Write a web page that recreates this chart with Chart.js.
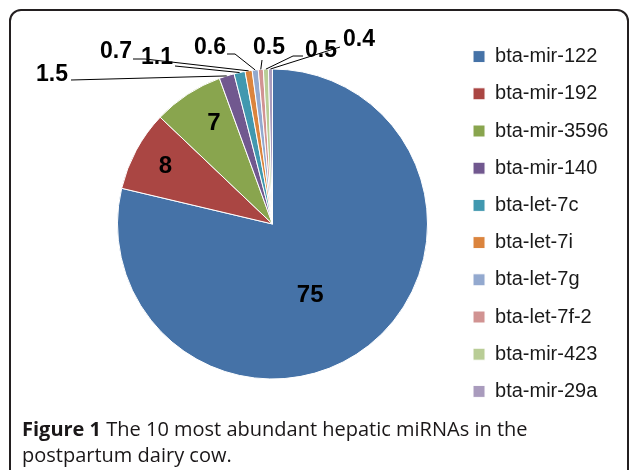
<!DOCTYPE html>
<html>
<head>
<meta charset="utf-8">
<script src="https://cdn.jsdelivr.net/npm/chart.js@4.4.1/dist/chart.umd.min.js"></script>
<style>
  html, body { margin: 0; padding: 0; background: #fff; }
  body { width: 629px; height: 470px; position: relative; overflow: hidden; }
  .frame {
    position: absolute; left: 9px; top: 9px;
    width: 620px; height: 500px; box-sizing: border-box;
    border: 2px solid #231f20; border-radius: 12px;
  }
  #pie { position: absolute; left: 0; top: 0; }
  .caption {
    position: absolute; left: 22px; top: 416px;
    font-family: "Open Sans", sans-serif; font-size: 20px; line-height: 26px;
    color: #1a1718;
  }
  .caption b { font-weight: 700; }
</style>
</head>
<body>
<div class="frame"></div>
<canvas id="pie" width="629" height="448"></canvas>
<div class="caption"><b>Figure 1</b> The 10 most abundant hepatic miRNAs in the<br>postpartum dairy cow.</div>
<script>
const mirnas = ['bta-mir-122', 'bta-mir-192', 'bta-mir-3596', 'bta-mir-140', 'bta-let-7c',
    'bta-let-7i', 'bta-let-7g', 'bta-let-7f-2', 'bta-mir-423', 'bta-mir-29a'];
const abundance = [75, 8, 7, 1.5, 1.1, 0.7, 0.6, 0.5, 0.5, 0.4];
const sliceColors = ['#4572a7', '#aa4643', '#89a54e', '#71588f', '#4198af',
    '#db843d', '#93a9cf', '#d19392', '#b9cd96', '#a99bbd'];

// labels inside the big slices: radius fraction + small angle nudge (deg)
const insideLabels = {
    0: { r: 0.52, shift: 10.5 },
    1: { r: 0.785, shift: 0 },
    2: { r: 0.75, shift: 3 }
};
// callouts for the thin slices: text centre and leader line points (ends on the arc)
const callouts = {
    3: { text: [52, 75], line: [[71, 80]] },
    4: { text: [157, 58], line: [[175, 66]] },
    5: { text: [116, 52], line: [[133, 59], [145, 59]] },
    6: { text: [210, 48], line: [[227, 54], [235, 54]] },
    7: { text: [269, 48], line: [[262, 60]] },
    8: { text: [321, 51], line: [[303, 56], [293, 56]] },
    9: { text: [359, 40], line: [[340, 47]] }
};

const sliceLabels = {
    id: 'sliceLabels',
    afterDatasetsDraw(chart) {
        const ctx = chart.ctx;
        const meta = chart.getDatasetMeta(0);
        const values = chart.data.datasets[0].data;
        ctx.save();
        ctx.fillStyle = '#000';
        ctx.strokeStyle = '#000';
        ctx.lineWidth = 1;
        ctx.textAlign = 'center';
        ctx.textBaseline = 'middle';
        meta.data.forEach((arc, i) => {
            const { x, y, startAngle, endAngle, outerRadius } =
                arc.getProps(['x', 'y', 'startAngle', 'endAngle', 'outerRadius'], true);
            const mid = (startAngle + endAngle) / 2;
            const text = String(values[i]);
            const inside = insideLabels[i];
            if (inside) {
                const a = mid + inside.shift * Math.PI / 180;
                const r = outerRadius * inside.r;
                ctx.font = 'bold 24px "Liberation Sans", Arial, sans-serif';
                ctx.fillText(text, x + r * Math.cos(a), y + r * Math.sin(a));
                return;
            }
            const c = callouts[i];
            if (!c) return;
            ctx.beginPath();
            ctx.moveTo(c.line[0][0], c.line[0][1]);
            c.line.slice(1).forEach(p => ctx.lineTo(p[0], p[1]));
            ctx.lineTo(x + outerRadius * Math.cos(mid), y + outerRadius * Math.sin(mid));
            ctx.stroke();
            ctx.font = 'bold 23px "Liberation Sans", Arial, sans-serif';
            ctx.fillText(text, c.text[0], c.text[1]);
        });
        ctx.restore();
    }
};

new Chart(document.getElementById('pie'), {
    type: 'pie',
    data: {
        labels: mirnas,
        datasets: [{
            data: abundance,
            backgroundColor: sliceColors,
            borderColor: '#fff',
            borderWidth: 1,
            radius: 155
        }]
    },
    options: {
        responsive: false,
        animation: false,
        layout: { padding: { left: 89.2, right: 10.6, top: 0, bottom: 0 } },
        plugins: {
            tooltip: { enabled: false },
            legend: {
                position: 'right',
                labels: {
                    boxWidth: 12,
                    boxHeight: 12,
                    padding: 17.2,
                    color: '#1a1a1a',
                    font: { family: '"Liberation Sans", Arial, sans-serif', size: 20 }
                }
            }
        }
    },
    plugins: [sliceLabels]
});
</script>
</body>
</html>
